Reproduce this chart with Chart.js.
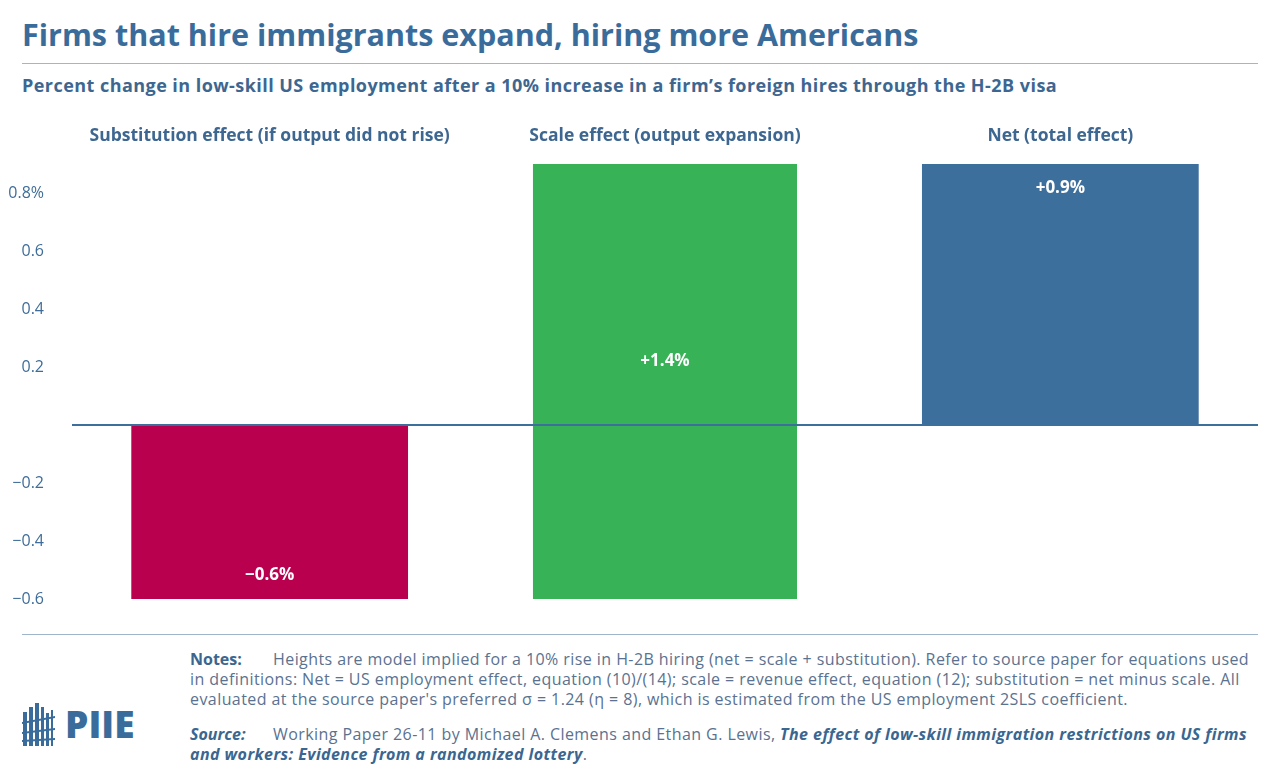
<!DOCTYPE html>
<html>
<head>
<meta charset="utf-8">
<script src="https://cdn.jsdelivr.net/npm/chart.js@4.4.1/dist/chart.umd.min.js"></script>
<style>
  body { margin: 0; background: #fff; font-family: "Open Sans", sans-serif; }
  #page { position: relative; width: 1280px; height: 775px; overflow: hidden; }
  h1 { position: absolute; left: 22px; top: 13px; margin: 0; font-size: 30.5px; font-weight: 700; color: #3a6c9b; white-space: nowrap; }
  .rule { position: absolute; left: 22px; width: 1236px; height: 1px; background: #9fb6cc; }
  h2 { position: absolute; left: 22px; top: 73px; margin: 0; font-size: 18px; letter-spacing: 0.45px; font-weight: 700; color: #3d6690; white-space: nowrap; }
  #box { position: absolute; left: 0; top: 110px; width: 1280px; height: 505px; }
  #foot { position: absolute; left: 190px; top: 649px; font-size: 16px; letter-spacing: 0.43px; line-height: 20px; color: #5a7290; white-space: nowrap; }
  #foot b { color: #3a6690; display: inline-block; width: 83px; letter-spacing: 0; }
  #foot i { color: #3a6690; font-weight: 700; }
  #logo { position: absolute; left: 20px; top: 700px; }
</style>
</head>
<body>
<div id="page">
  <h1>Firms that hire immigrants expand, hiring more Americans</h1>
  <div class="rule" style="top:63px"></div>
  <h2>Percent change in low-skill US employment after a 10% increase in a firm’s foreign hires through the H-2B visa</h2>
  <div id="box"><canvas id="chart"></canvas></div>
  <div class="rule" style="top:634px"></div>
  <div id="foot">
    <div><b>Notes:</b>Heights are model implied for a 10% rise in H-2B hiring (net = scale + substitution). Refer to source paper for equations used<br>in definitions: Net = US employment effect, equation (10)/(14); scale = revenue effect, equation (12); substitution = net minus scale. All<br>evaluated at the source paper's preferred σ = 1.24 (η = 8), which is estimated from the US employment 2SLS coefficient.</div>
    <div style="margin-top:15px"><b><i>Source:</i></b>Working Paper 26-11 by Michael A. Clemens and Ethan G. Lewis, <i>The effect of low-skill immigration restrictions on US firms<br>and workers: Evidence from a randomized lottery</i>.</div>
  </div>
  <svg id="logo" width="120" height="50" viewBox="0 0 120 50">
    <g fill="#3a6c9b">
      <rect x="3" y="12" width="4" height="34"/>
      <rect x="9" y="7" width="4" height="39"/>
      <rect x="15" y="3" width="4" height="43"/>
      <rect x="21" y="7" width="3" height="39"/>
      <rect x="26" y="13" width="3" height="33"/>
      <polygon points="2,22 35,16 35,18 2,24"/>
      <polygon points="2,32 35,28 35,30 2,34"/>
      <polygon points="2,40 35,38 35,40 2,42"/>
      <rect x="31" y="10" width="2" height="36"/>
    </g>
    <text x="45" y="38" font-family="Open Sans, sans-serif" font-weight="800" font-size="37" fill="#3a6c9b">PIIE</text>
  </svg>
</div>
<script>
var categories = ["Substitution effect (if output did not rise)", "Scale effect (output expansion)", "Net (total effect)"];
var barStart = [0, -0.6, 0];
var barEnd = [-0.6, 0.9, 0.9];
var valueLabels = ["\u22120.6%", "+1.4%", "+0.9%"];
var barColors = ["#b8004e", "#37b257", "#3d6f9c"];
var tickValues = [-0.6, -0.4, -0.2, 0, 0.2, 0.4, 0.6, 0.8];

var blue = "#3d6f9c";

function ranges(keep) {
  return barStart.map(function(s, i) { return keep.indexOf(i) >= 0 ? [s, barEnd[i]] : null; });
}

var barLabelPlugin = {
  id: 'barLabels',
  afterDatasetsDraw: function(chart) {
    var ctx = chart.ctx;
    var y = chart.scales.y;
    var x = chart.scales.x;
    ctx.save();
    ctx.font = "bold 17px 'Open Sans', sans-serif";
    ctx.fillStyle = "#fff";
    ctx.textAlign = "center";
    ctx.textBaseline = "middle";
    valueLabels.forEach(function(txt, i) {
      var lo = Math.min(barStart[i], barEnd[i]);
      var hi = Math.max(barStart[i], barEnd[i]);
      var py;
      if (i === 0) py = y.getPixelForValue(lo) - 24;
      else if (i === 2) py = y.getPixelForValue(hi) + 24;
      else py = y.getPixelForValue(0.22);
      ctx.fillText(txt, x.getPixelForValue(i), py);
    });
    // zero line on top of bars
    var z = y.getPixelForValue(0);
    ctx.strokeStyle = blue;
    ctx.lineWidth = 2;
    ctx.beginPath();
    ctx.moveTo(chart.chartArea.left, z);
    ctx.lineTo(chart.chartArea.right, z);
    ctx.stroke();
    ctx.restore();
  }
};

new Chart(document.getElementById('chart'), {
  type: 'bar',
  data: {
    labels: categories,
    datasets: [{
      data: ranges([0, 2]),
      backgroundColor: barColors,
      borderWidth: 0,
      barPercentage: 0.7,
      categoryPercentage: 1.0
    }, {
      data: ranges([1]),
      backgroundColor: barColors,
      borderWidth: 0,
      barPercentage: 0.668,
      categoryPercentage: 1.0
    }]
  },
  options: {
    responsive: true,
    maintainAspectRatio: false,
    animation: false,
    grouped: false,
    layout: { padding: { right: 22, bottom: 16, top: 0 } },
    plugins: { legend: { display: false }, tooltip: { enabled: false } },
    scales: {
      x: {
        position: 'top',
        grid: { display: false, drawTicks: false },
        border: { display: false },
        ticks: {
          color: "#3d6690",
          font: { family: "'Open Sans', sans-serif", size: 17.5, weight: 'bold' },
          padding: 17,
          maxRotation: 0,
          minRotation: 0,
          autoSkip: false
        },
        afterFit: function(s) { s.height = 54; }
      },
      y: {
        min: -0.6,
        max: 0.9,
        grid: { display: false },
        border: { display: false },
        afterBuildTicks: function(s) { s.ticks = tickValues.map(function(v) { return { value: v }; }); },
        afterFit: function(s) { s.width = 72; s.paddingTop = 0; s.paddingBottom = 0; },
        ticks: {
          color: "#3f6d99",
          padding: 20,
          font: { family: "'Open Sans', sans-serif", size: 16 },
          callback: function(v) {
            if (Math.abs(v) < 1e-9) return '';
            var t = Math.abs(v).toFixed(1);
            if (v > 0.75) return t + '%';
            return (v < 0 ? '\u2212' : '') + t;
          }
        }
      }
    }
  },
  plugins: [barLabelPlugin]
});
</script>
</body>
</html>
